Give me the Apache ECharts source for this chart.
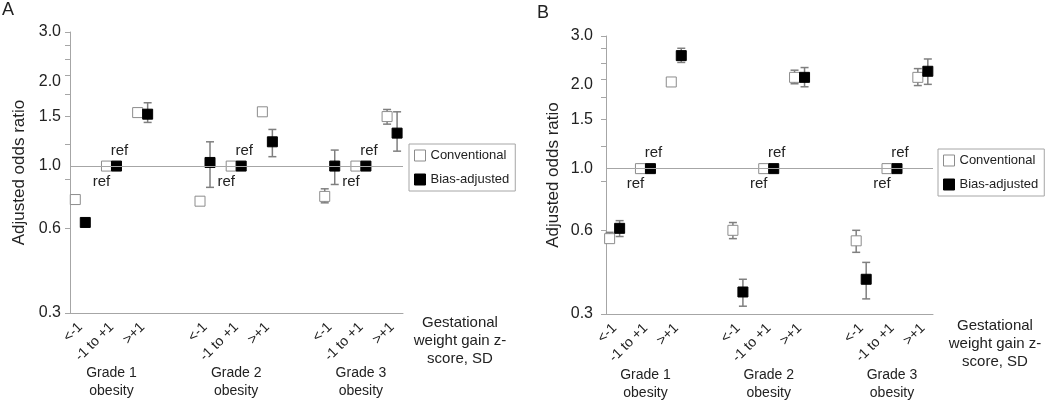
<!DOCTYPE html>
<html>
<head>
<meta charset="utf-8">
<script src="https://cdn.jsdelivr.net/npm/echarts@6/dist/echarts.min.js"></script>
<style>
  html, body { margin: 0; padding: 0; background: #fff; }
  #chart { width: 1050px; height: 402px; }
</style>
</head>
<body>
<div id="chart"></div>
<script>
// x slots: 3 per obesity grade, one empty slot between grades
const catPos = [0, 1, 2, 4, 5, 6, 8, 9, 10];
const gwgLabels = ['<-1', '-1 to +1', '>+1', '<-1', '-1 to +1', '>+1', '<-1', '-1 to +1', '>+1'];
const isRef = [0, 1, 0, 0, 1, 0, 0, 1, 0];
const groupPos = [1, 5, 9];
const groupLabels = ['Grade 1\nobesity', 'Grade 2\nobesity', 'Grade 3\nobesity'];
const xTitle = 'Gestational\nweight gain z-\nscore, SD';
const yTitle = 'Adjusted odds ratio';
const refText = 'ref';

const yLabelVals = [0.3, 0.6, 1.0, 1.5, 2.0, 3.0];
const yTickVals = [0.3, 0.6, 0.9, 1.2, 1.5, 1.8, 2.1, 2.4, 2.7, 3.0];

// panel A
const convA   = [0.76, 1.0, 1.55, 0.75, 1.0, 1.56, 0.78, 1.0, 1.50];
const convALo = [0.74, 1.0, 1.52, 0.73, 1.0, 1.52, 0.74, 1.0, 1.41];
const convAHi = [0.78, 1.0, 1.58, 0.77, 1.0, 1.60, 0.83, 1.0, 1.59];
const biasA   = [0.63, 1.0, 1.53, 1.03, 1.0, 1.22, 1.00, 1.0, 1.31];
const biasALo = [0.62, 1.0, 1.43, 0.84, 1.0, 1.08, 0.86, 1.0, 1.13];
const biasAHi = [0.645, 1.0, 1.68, 1.22, 1.0, 1.35, 1.14, 1.0, 1.56];

// panel B
const convB   = [0.56, 1.0, 2.05, 0.60, 1.0, 2.13, 0.55, 1.0, 2.13];
const convBLo = [0.55, 1.0, 1.98, 0.56, 1.0, 2.02, 0.50, 1.0, 1.99];
const convBHi = [0.59, 1.0, 2.10, 0.64, 1.0, 2.26, 0.60, 1.0, 2.29];
const biasB   = [0.61, 1.0, 2.55, 0.36, 1.0, 2.13, 0.40, 1.0, 2.24];
const biasBLo = [0.57, 1.0, 2.41, 0.32, 1.0, 1.97, 0.34, 1.0, 2.01];
const biasBHi = [0.65, 1.0, 2.71, 0.40, 1.0, 2.31, 0.46, 1.0, 2.48];

const FONT = "'Liberation Sans', Arial, sans-serif";
const TXT = '#222';
const GRAY = '#a6a6a6';
const BAR = '#7f7f7f';

const toRows = (v, lo, hi) => catPos.map((p, i) => [p, Math.log(v[i]), Math.log(lo[i]), Math.log(hi[i]), isRef[i]]);

const makeRender = (dx, fill, stroke, above) => (params, api) => {
  const x = api.value(0);
  const c = api.coord([x, api.value(1)]);
  const lo = api.coord([x, api.value(2)]);
  const hi = api.coord([x, api.value(3)]);
  const cx = c[0] + dx;
  const kids = [];
  const barStyle = { stroke: BAR, lineWidth: 1.5 };
  if (lo[1] - hi[1] > 1) {
    kids.push({ type: 'line', shape: { x1: cx, y1: hi[1], x2: cx, y2: lo[1] }, style: barStyle });
    kids.push({ type: 'line', shape: { x1: cx - 4, y1: hi[1], x2: cx + 4, y2: hi[1] }, style: barStyle });
    kids.push({ type: 'line', shape: { x1: cx - 4, y1: lo[1], x2: cx + 4, y2: lo[1] }, style: barStyle });
  }
  kids.push({ type: 'rect', shape: { x: cx - 5, y: c[1] - 5, width: 10, height: 10 }, style: { fill: fill, stroke: stroke, lineWidth: 1 } });
  if (api.value(4)) {
    kids.push({
      type: 'text',
      style: {
        text: refText, x: cx + (above ? 3 : -5), y: above ? c[1] - 8 : c[1] + 8,
        align: 'center', verticalAlign: above ? 'bottom' : 'top',
        fontSize: 15, fontFamily: FONT, fill: TXT
      }
    });
  }
  return { type: 'group', children: kids };
};

function yAxisFor(gridIndex, margin, nameGap) {
  return {
    type: 'value', gridIndex, min: Math.log(0.3), max: Math.log(3.0),
    name: yTitle, nameLocation: 'middle', nameGap,
    nameTextStyle: { fontSize: 17, color: TXT, fontFamily: FONT },
    axisLine: { show: true, onZero: false, lineStyle: { color: GRAY } },
    axisTick: { show: true, length: 5, customValues: yTickVals.map(Math.log), lineStyle: { color: GRAY } },
    axisLabel: {
      customValues: yLabelVals.map(Math.log),
      formatter: v => Math.exp(v).toFixed(1),
      fontSize: 16, color: TXT, fontFamily: FONT, margin
    },
    splitLine: { show: false }
  };
}

function xAxesFor(gridIndex, min, max, groupMargin) {
  return [{
    type: 'value', gridIndex, min, max,
    axisLine: { show: true, onZero: false, lineStyle: { color: GRAY } },
    axisTick: { show: false },
    splitLine: { show: false },
    axisLabel: {
      customValues: catPos, formatter: v => gwgLabels[catPos.indexOf(v)],
      rotate: 45, fontSize: 14, color: TXT, fontFamily: FONT, margin: 12
    }
  }, {
    type: 'value', gridIndex, min, max, position: 'bottom',
    axisLine: { show: false, onZero: false },
    axisTick: { show: false },
    splitLine: { show: false },
    axisLabel: {
      customValues: groupPos, formatter: v => groupLabels[groupPos.indexOf(v)],
      fontSize: 14, lineHeight: 18, color: TXT, fontFamily: FONT, margin: groupMargin
    }
  }];
}

const legendItems = [
  { name: 'Conventional', icon: 'rect', itemStyle: { color: '#fff', borderColor: '#8c8c8c', borderWidth: 1 } },
  { name: 'Bias-adjusted', icon: 'rect', itemStyle: { color: '#000', borderColor: '#000', borderWidth: 1 } }
];
const legendFor = (left, top) => ({
  left, top, orient: 'vertical', data: legendItems, selectedMode: false,
  itemWidth: 11, itemHeight: 11, itemGap: 11, padding: [5, 6, 5, 5],
  borderColor: GRAY, borderWidth: 1,
  textStyle: { fontSize: 13, color: TXT, fontFamily: FONT }
});

const refLine = {
  silent: true, symbol: 'none', animation: false,
  label: { show: false },
  lineStyle: { color: GRAY, width: 1, type: 'solid' },
  data: [{ yAxis: 0 }]
};

const panelSeries = (axisBase, yIndex, conv, convLo, convHi, bias, biasLo, biasHi) => [{
  type: 'custom', name: 'Conventional', xAxisIndex: axisBase, yAxisIndex: yIndex,
  renderItem: makeRender(-5, '#fff', '#8c8c8c', false),
  itemStyle: { color: '#fff', borderColor: '#8c8c8c' },
  encode: { x: 0, y: 1 },
  data: toRows(conv, convLo, convHi),
  markLine: refLine, z: 2
}, {
  type: 'custom', name: 'Bias-adjusted', xAxisIndex: axisBase, yAxisIndex: yIndex,
  renderItem: makeRender(5, '#000', '#000', true),
  itemStyle: { color: '#000' },
  encode: { x: 0, y: 1 },
  data: toRows(bias, biasLo, biasHi), z: 3
}];

const chart = echarts.init(document.getElementById('chart'));
chart.setOption({
  animation: false,
  textStyle: { fontFamily: FONT },
  title: [
    { text: 'A', left: 2, top: 1, padding: 0, textStyle: { fontSize: 18, fontWeight: 'normal', color: TXT, fontFamily: FONT } },
    { text: 'B', left: 537, top: 4, padding: 0, textStyle: { fontSize: 18, fontWeight: 'normal', color: TXT, fontFamily: FONT } }
  ],
  legend: [legendFor(409, 144), legendFor(938, 149)],
  grid: [
    { left: 70, top: 32, width: 333, height: 281 },
    { left: 606, top: 36, width: 327, height: 279 }
  ],
  xAxis: [...xAxesFor(0, -0.33, 10.35, 51), ...xAxesFor(1, -0.28, 10.33, 52)],
  yAxis: [yAxisFor(0, 9, 42), yAxisFor(1, 13, 44)],
  graphic: [
    { type: 'text', x: 460, y: 314, style: { text: xTitle, align: 'center', fontSize: 15, lineHeight: 18, fontFamily: FONT, fill: TXT } },
    { type: 'text', x: 995, y: 317, style: { text: xTitle, align: 'center', fontSize: 15, lineHeight: 18, fontFamily: FONT, fill: TXT } }
  ],
  series: [
    ...panelSeries(0, 0, convA, convALo, convAHi, biasA, biasALo, biasAHi),
    ...panelSeries(2, 1, convB, convBLo, convBHi, biasB, biasBLo, biasBHi)
  ]
});
</script>
</body>
</html>
